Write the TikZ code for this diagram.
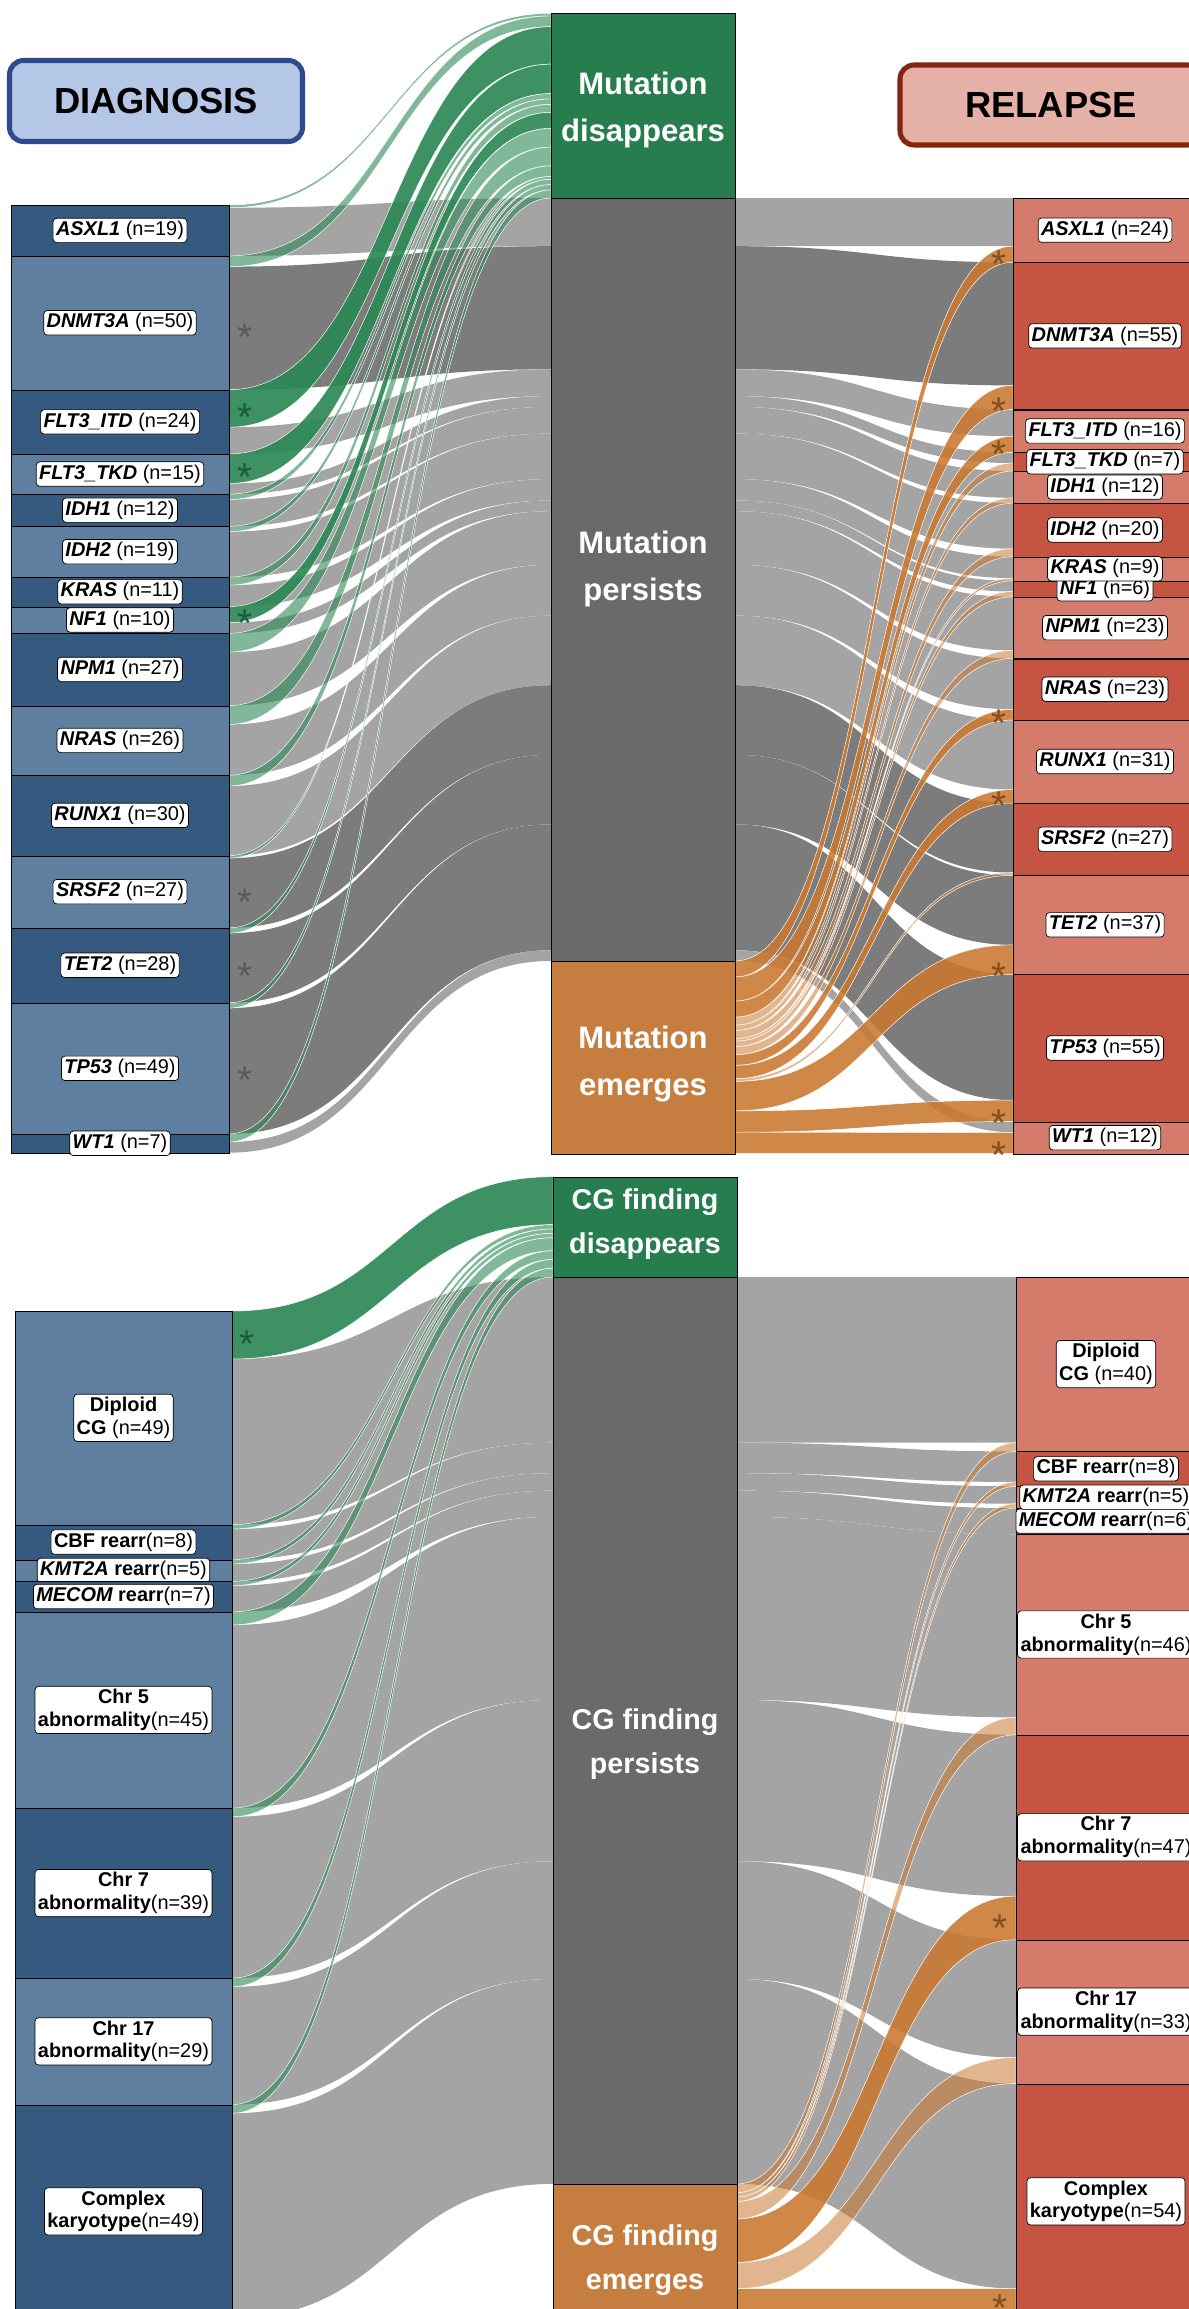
\documentclass[tikz,border=0pt]{standalone}
\usepackage{fontspec}
\setmainfont{Liberation Sans}
\usepackage{xcolor}
\usepackage{tikz}

\definecolor{bluedark}{HTML}{35597F}
\definecolor{bluelight}{HTML}{5E7F9F}
\definecolor{reddark}{HTML}{C65442}
\definecolor{redlight}{HTML}{D47B6C}
\definecolor{greenbox}{HTML}{287D4F}
\definecolor{greybox}{HTML}{6A6A6A}
\definecolor{orangebox}{HTML}{C57E3F}
\definecolor{greylight}{HTML}{A4A4A4}
\definecolor{greydark}{HTML}{7C7C7C}
\definecolor{greenflow}{HTML}{2C8855}
\definecolor{orangeflow}{HTML}{C9782F}
\definecolor{diagfill}{HTML}{B4C7E7}
\definecolor{diagline}{HTML}{2F4A8C}
\definecolor{relfill}{HTML}{E5B1A6}
\definecolor{relline}{HTML}{85250F}
\definecolor{stargrey}{HTML}{595959}
\definecolor{stargreen}{HTML}{1E5B39}
\definecolor{starbrown}{HTML}{844E1E}

\pgfdeclarelayer{greys}
\pgfdeclarelayer{flows}
\pgfsetlayers{greys,flows,main}

% one ribbon: style, x1, y1, x2, y2, width
\newcommand\band[6]{%
  \pgfmathsetmacro\bmid{(#2+#4)/2}%
  \pgfmathsetmacro\byl{#3+#6}%
  \pgfmathsetmacro\byr{#5+#6}%
  \fill[#1] (#2,#3) .. controls (\bmid,#3) and (\bmid,#5) .. (#4,#5)
    -- (#4,\byr) .. controls (\bmid,\byr) and (\bmid,\byl) .. (#2,\byl) -- cycle;}

\begin{document}
\begin{tikzpicture}[x=0.3mm, y=-0.3mm,
  block/.style={draw=black, line width=0.9pt, inner sep=0pt, anchor=north west},
  midbox/.style={block, minimum width=184*0.3mm},
  lab/.style={draw=black, fill=white, line width=0.6pt, rounded corners=3pt, inner sep=2.5pt, align=center, font={\fontsize{17}{19.5}\selectfont}},
  labb/.style={lab, font={\bfseries\fontsize{17}{19.5}\selectfont}},
  midtext/.style={text=white, align=center, font={\bfseries\fontsize{26.5}{40}\selectfont}},
  cgtext/.style={midtext, font={\bfseries\fontsize{24.5}{37}\selectfont}},
  hdr/.style={line width=4.3pt, rounded corners=12pt, font={\bfseries\fontsize{31}{31}\selectfont}},
  gsoft/.style={fill=greenflow, fill opacity=0.6, draw=white, line width=0.4pt},
  gstrong/.style={fill=greenflow, fill opacity=0.92, draw=white, line width=0.4pt},
  osoft/.style={fill=orangeflow, fill opacity=0.55, draw=white, line width=0.4pt},
  ostrong/.style={fill=orangeflow, fill opacity=0.88, draw=white, line width=0.4pt},
  sig/.style={anchor=base, inner sep=0pt, font={\fontsize{33}{33}\selectfont}}
]
\path[use as bounding box] (0,0) rectangle (1189,2309);
\clip (0,0) rectangle (1189,2309);

% headers
\node[hdr, draw=diagline, fill=diagfill, minimum width=293*0.3mm, minimum height=81*0.3mm] (diag) at (156,101) {DIAGNOSIS};
\node[hdr, draw=relline, fill=relfill, minimum width=302*0.3mm, minimum height=80*0.3mm] (rel) at (1051,105) {RELAPSE};

% mutations: middle column
\node[midbox, fill=greenbox, minimum height=184.7*0.3mm] (mdis) at (551,13.3) {};
\node[midbox, fill=greybox, minimum height=762.9*0.3mm] (mper) at (551,198) {};
\node[midbox, fill=orangebox, minimum height=192.7*0.3mm] (mem) at (551,960.9) {};
\node[midtext] (tdis) at (643,110) {Mutation\\disappears};
\node[midtext] (tper) at (643,569) {Mutation\\persists};
\node[midtext] (tem) at (643,1064) {Mutation\\emerges};

% mutations: name / n diagnosis / n disappears / n relapse / colours / stars
\def\uu{2.677}\def\xl{11}\def\xL{229}\def\xMa{551}\def\xMb{735}\def\xR{1013}\def\scap{7}\def\lx{120}\def\sx{245}
\xdef\ly{205}\xdef\md{13.3}\xdef\mp{198}\xdef\me{960.9}\xdef\ry{198}
\foreach \gname/\nd/\nx/\nr/\bl/\rd/\gy/\gn/\oc/\starL/\starR [count=\i] in {
  ASXL1/19/1/24/bluedark/redlight/greylight/gsoft/ostrong/0/1,
  DNMT3A/50/4/55/bluelight/reddark/greydark/gsoft/ostrong/1/1,
  FLT3\_ITD/24/14/16/bluedark/redlight/greylight/gstrong/ostrong/2/1,
  FLT3\_TKD/15/11/7/bluelight/reddark/greylight/gstrong/osoft/2/0,
  IDH1/12/2/12/bluedark/redlight/greylight/gsoft/osoft/0/0,
  IDH2/19/2/20/bluelight/reddark/greylight/gsoft/osoft/0/0,
  KRAS/11/3/9/bluedark/redlight/greylight/gsoft/osoft/0/0,
  NF1/10/6/6/bluelight/reddark/greylight/gstrong/osoft/2/0,
  NPM1/27/7/23/bluedark/redlight/greylight/gsoft/osoft/0/0,
  NRAS/26/7/23/bluelight/reddark/greylight/gsoft/ostrong/0/1,
  RUNX1/30/4/31/bluedark/redlight/greylight/gsoft/ostrong/0/1,
  SRSF2/27/1/27/bluelight/reddark/greydark/gsoft/osoft/1/0,
  TET2/28/2/37/bluedark/redlight/greydark/gsoft/ostrong/1/1,
  TP53/49/2/55/bluelight/reddark/greydark/gsoft/ostrong/1/1,
  WT1/7/3/12/bluedark/redlight/greylight/gsoft/ostrong/0/1}{
  \pgfmathsetmacro\wdis{\nx*\uu}
  \pgfmathsetmacro\wper{(\nd-\nx)*\uu}
  \pgfmathsetmacro\wem{(\nr-\nd+\nx)*\uu}
  \pgfmathsetmacro\hL{\nd*\uu}
  \pgfmathsetmacro\hR{\nr*\uu}
  \pgfmathsetmacro\lyg{\ly+\wdis}
  \pgfmathsetmacro\ryo{\ry+\wper}
  \begin{pgfonlayer}{greys}
    \band{fill=\gy}{\xL}{\lyg}{\xMa}{\mp}{\wper}
    \band{fill=\gy}{\xMb}{\mp}{\xR}{\ry}{\wper}
  \end{pgfonlayer}
  \begin{pgfonlayer}{flows}
    \ifdim\wdis pt>0pt \band{\gn}{\xL}{\ly}{\xMa}{\md}{\wdis}\fi
    \ifdim\wem pt>0pt \band{\oc}{\xMb}{\me}{\xR}{\ryo}{\wem}\fi
  \end{pgfonlayer}
  \node[block, fill=\bl, minimum width=218*0.3mm, minimum height=\hL*0.3mm] (dia\i) at (\xl,\ly) {};
  \node[block, fill=\rd, minimum width=184*0.3mm, minimum height=\hR*0.3mm] (rel\i) at (\xR,\ry) {};
  \pgfmathsetmacro\lcy{\ly+\hL/2}
  \node[lab] (ldia\i) at (\lx,\lcy) {{\bfseries\itshape\gname} (n=\nd)};
  \ifnum\starL=1 \pgfmathsetmacro\sy{\lyg+\wper/2+22}\node[sig, text=stargrey] (sl\i) at (\sx,\sy) {*};\fi
  \ifnum\starL=2 \pgfmathsetmacro\sy{\ly+\wdis/2+22}\node[sig, text=stargreen] (sl\i) at (\sx,\sy) {*};\fi
  \ifnum\starR=1 \pgfmathsetmacro\sy{\ry+\hR-min(\wem/2,\scap)+22}\node[sig, text=starbrown] (sr\i) at (999,\sy) {*};\fi
  \pgfmathsetmacro\tmpv{\ly+\hL}\xdef\ly{\tmpv}
  \pgfmathsetmacro\tmpv{\md+\wdis}\xdef\md{\tmpv}
  \pgfmathsetmacro\tmpv{\mp+\wper}\xdef\mp{\tmpv}
  \pgfmathsetmacro\tmpv{\me+\wem}\xdef\me{\tmpv}
  \pgfmathsetmacro\tmpv{\ry+\hR}\xdef\ry{\tmpv}
}
% relapse labels, bottom up
\xdef\ry{1153.7}
\foreach \gname/\nr [count=\i] in {WT1/12, TP53/55, TET2/37, SRSF2/27, RUNX1/31, NRAS/23, NPM1/23, NF1/6, KRAS/9, IDH2/20, IDH1/12, FLT3\_TKD/7, FLT3\_ITD/16, DNMT3A/55, ASXL1/24}{
  \pgfmathsetmacro\lcy{\ry-\nr*\uu/2}
  \node[lab] (lrel\i) at (1105,\lcy) {{\bfseries\itshape\gname} (n=\nr)};
  \pgfmathsetmacro\tmpv{\ry-\nr*\uu}\xdef\ry{\tmpv}
}

% cytogenetics: middle column
\node[midbox, fill=greenbox, minimum height=100.3*0.3mm] (cdis) at (553,1176.7) {};
\node[midbox, fill=greybox, minimum height=906.9*0.3mm] (cper) at (553,1277) {};
\node[midbox, fill=orangebox, minimum height=135.1*0.3mm] (cem) at (553,2183.9) {};
\node[cgtext] (tcdis) at (645,1224) {CG finding\\disappears};
\node[cgtext] (tcper) at (645,1744) {CG finding\\persists};
\node[cgtext] (tcem) at (645,2260) {CG finding\\emerges};

\def\uu{4.36}\def\xl{15}\def\xL{232}\def\xMa{553}\def\xMb{737}\def\xR{1016}\def\scap{20}\def\lx{123.5}\def\sx{247}
\xdef\ly{1311}\xdef\md{1176.7}\xdef\mp{1277}\xdef\me{2183.9}\xdef\ry{1277}
\foreach \gname/\nd/\nx/\nr/\bl/\rd/\gy/\gn/\oc/\starL/\starR [count=\i] in {
  {Diploid\\CG~}/49/11/40/bluelight/redlight/greylight/gstrong/osoft/2/0,
  {CBF rearr}/8/1/8/bluedark/reddark/greylight/gsoft/osoft/0/0,
  {{\itshape KMT2A} rearr}/5/1/5/bluelight/redlight/greylight/gsoft/osoft/0/0,
  {{\itshape MECOM} rearr}/7/1/6/bluedark/reddark/greylight/gsoft/osoft/0/0,
  {Chr 5\\abnormality}/45/3/46/bluelight/redlight/greylight/gsoft/osoft/0/0,
  {Chr 7\\abnormality}/39/2/47/bluedark/reddark/greylight/gsoft/ostrong/0/1,
  {Chr 17\\abnormality}/29/2/33/bluelight/redlight/greylight/gsoft/osoft/0/0,
  {Complex\\karyotype}/49/2/54/bluedark/reddark/greylight/gsoft/ostrong/0/1}{
  \pgfmathsetmacro\wdis{\nx*\uu}
  \pgfmathsetmacro\wper{(\nd-\nx)*\uu}
  \pgfmathsetmacro\wem{(\nr-\nd+\nx)*\uu}
  \pgfmathsetmacro\hL{\nd*\uu}
  \pgfmathsetmacro\hR{\nr*\uu}
  \pgfmathsetmacro\lyg{\ly+\wdis}
  \pgfmathsetmacro\ryo{\ry+\wper}
  \begin{pgfonlayer}{greys}
    \band{fill=\gy}{\xL}{\lyg}{\xMa}{\mp}{\wper}
    \band{fill=\gy}{\xMb}{\mp}{\xR}{\ry}{\wper}
  \end{pgfonlayer}
  \begin{pgfonlayer}{flows}
    \ifdim\wdis pt>0pt \band{\gn}{\xL}{\ly}{\xMa}{\md}{\wdis}\fi
    \ifdim\wem pt>0pt \band{\oc}{\xMb}{\me}{\xR}{\ryo}{\wem}\fi
  \end{pgfonlayer}
  \node[block, fill=\bl, minimum width=217*0.3mm, minimum height=\hL*0.3mm] (cdia\i) at (\xl,\ly) {};
  \node[block, fill=\rd, minimum width=181*0.3mm, minimum height=\hR*0.3mm] (crel\i) at (\xR,\ry) {};
  \pgfmathsetmacro\lcy{\ly+\hL/2}
  \node[labb] (lcdia\i) at (\lx,\lcy) {\gname\mdseries(n=\nd)};
  \ifnum\starL=2 \pgfmathsetmacro\sy{\ly+\wdis/2+22}\node[sig, text=stargreen] (csl\i) at (\sx,\sy) {*};\fi
  \ifnum\starR=1 \pgfmathsetmacro\sy{\ry+\hR-\scap+22}\node[sig, text=starbrown] (csr\i) at (1000,\sy) {*};\fi
  \pgfmathsetmacro\tmpv{\ly+\hL}\xdef\ly{\tmpv}
  \pgfmathsetmacro\tmpv{\md+\wdis}\xdef\md{\tmpv}
  \pgfmathsetmacro\tmpv{\mp+\wper}\xdef\mp{\tmpv}
  \pgfmathsetmacro\tmpv{\me+\wem}\xdef\me{\tmpv}
  \pgfmathsetmacro\tmpv{\ry+\hR}\xdef\ry{\tmpv}
}
% relapse labels, bottom up
\xdef\ry{2319}
\foreach \gname/\nr [count=\i] in {{Complex\\karyotype}/54, {Chr 17\\abnormality}/33, {Chr 7\\abnormality}/47, {Chr 5\\abnormality}/46, {{\itshape MECOM} rearr}/6, {{\itshape KMT2A} rearr}/5, {CBF rearr}/8, {Diploid\\CG~}/40}{
  \pgfmathsetmacro\lcy{\ry-\nr*\uu/2}
  \node[labb] (lcrel\i) at (1106,\lcy) {\gname\mdseries(n=\nr)};
  \pgfmathsetmacro\tmpv{\ry-\nr*\uu}\xdef\ry{\tmpv}
}
\end{tikzpicture}
\end{document}
